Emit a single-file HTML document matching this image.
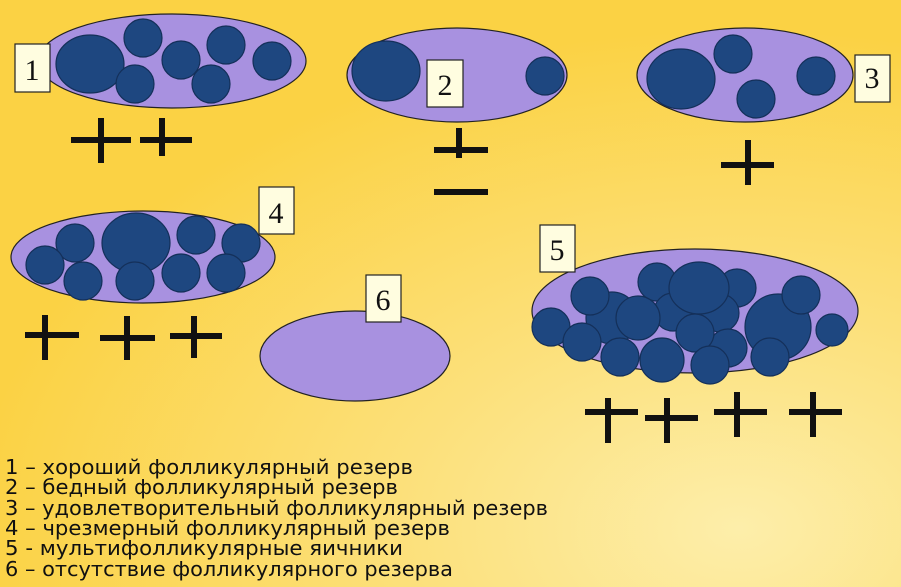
<!DOCTYPE html>
<html><head><meta charset="utf-8"><style>
html,body{margin:0;padding:0;width:901px;height:587px;overflow:hidden}
</style></head><body>
<svg width="901" height="587" viewBox="0 0 901 587" xmlns="http://www.w3.org/2000/svg">
<defs>
<radialGradient id="bg" cx="0.82" cy="0.9" r="0.85">
<stop offset="0" stop-color="#fdeeaa"/>
<stop offset="0.45" stop-color="#fce07a"/>
<stop offset="1" stop-color="#fbd244"/>
</radialGradient>
</defs>
<rect width="901" height="587" fill="url(#bg)"/>
<g stroke="#222" stroke-width="1.2">
<ellipse cx="172" cy="61" rx="134" ry="47" fill="#a891e0"/>
<ellipse cx="457" cy="75" rx="110" ry="47" fill="#a891e0"/>
<ellipse cx="745" cy="75" rx="108" ry="47" fill="#a891e0"/>
<ellipse cx="143" cy="257" rx="132" ry="46" fill="#a891e0"/>
<ellipse cx="355" cy="356" rx="95" ry="45" fill="#a891e0"/>
<ellipse cx="695" cy="311" rx="163" ry="62" fill="#a891e0"/>
</g>
<g fill="#1e4780" stroke="#14305a" stroke-width="1.2">
<ellipse cx="90" cy="64" rx="34" ry="29"/>
<circle cx="143" cy="38" r="19"/><circle cx="135" cy="84" r="19"/><circle cx="181" cy="60" r="19"/>
<circle cx="226" cy="45" r="19"/><circle cx="211" cy="84" r="19"/><circle cx="272" cy="61" r="19"/>
<ellipse cx="386" cy="71" rx="34" ry="30"/><circle cx="545" cy="76" r="19"/>
<ellipse cx="681" cy="79" rx="34" ry="30"/><circle cx="733" cy="54" r="19"/><circle cx="756" cy="99" r="19"/><circle cx="816" cy="76" r="19"/>
<circle cx="75" cy="243" r="19"/><circle cx="45" cy="265" r="19"/><circle cx="83" cy="281" r="19"/>
<ellipse cx="136" cy="243" rx="34" ry="30"/><circle cx="135" cy="281" r="19"/><circle cx="196" cy="235" r="19"/>
<circle cx="241" cy="243" r="19"/><circle cx="181" cy="273" r="19"/><circle cx="226" cy="273" r="19"/>
<circle cx="612" cy="318" r="26"/><circle cx="657" cy="282" r="19"/><circle cx="737" cy="288" r="19"/>
<circle cx="673" cy="312" r="19"/><circle cx="720" cy="313" r="19"/>
<circle cx="590" cy="296" r="19"/><circle cx="551" cy="327" r="19"/><circle cx="582" cy="342" r="19"/>
<circle cx="638" cy="318" r="22"/><ellipse cx="699" cy="288" rx="30" ry="26"/>
<circle cx="728" cy="348" r="19"/><circle cx="620" cy="357" r="19"/><circle cx="662" cy="360" r="22"/>
<circle cx="695" cy="333" r="19"/><circle cx="710" cy="365" r="19"/>
<circle cx="778" cy="327" r="33"/><circle cx="801" cy="295" r="19"/><circle cx="832" cy="330" r="16"/><circle cx="770" cy="357" r="19"/>
</g>
<g fill="#fffde0" stroke="#222" stroke-width="1.2">
<rect x="15" y="44" width="35" height="48"/>
<rect x="427" y="60" width="36" height="47"/>
<rect x="855" y="55" width="35" height="47"/>
<rect x="259" y="187" width="35" height="47"/>
<rect x="366" y="275" width="35" height="47"/>
<rect x="540" y="225" width="35" height="47"/>
</g>
<g font-family="Liberation Serif, serif" font-size="30" fill="#111" text-anchor="middle">
<text x="32" y="80">1</text><text x="445" y="95">2</text><text x="872" y="88">3</text>
<text x="276" y="223">4</text><text x="383" y="310">6</text><text x="557" y="260">5</text>
</g>
<g stroke="#111" stroke-width="6" fill="none">
<path d="M71 140h60M101 118v45M140 140h52M162 118v38"/>
<path d="M434 150h54M459 128v30M434 192h54"/>
<path d="M721 165h53M748 140v45"/>
<path d="M25 335h54M45 315v45M100 338h55M127 316v44M170 336h52M194 316v42"/>
<path d="M585 412h53M608 398v45M645 418h53M667 398v45M714 412h53M737 392v45M789 412h53M813 392v45"/>
</g>
<g font-family="DejaVu Sans, sans-serif" font-size="20" fill="#111">
<text x="5" y="474" textLength="408" lengthAdjust="spacingAndGlyphs">1 – хороший фолликулярный резерв</text>
<text x="5" y="494" textLength="393" lengthAdjust="spacingAndGlyphs">2 – бедный фолликулярный резерв</text>
<text x="5" y="515" textLength="543" lengthAdjust="spacingAndGlyphs">3 – удовлетворительный фолликулярный резерв</text>
<text x="5" y="535" textLength="445" lengthAdjust="spacingAndGlyphs">4 – чрезмерный фолликулярный резерв</text>
<text x="5" y="555" textLength="398" lengthAdjust="spacingAndGlyphs">5 -  мультифолликулярные яичники</text>
<text x="5" y="576" textLength="448" lengthAdjust="spacingAndGlyphs">6 – отсутствие фолликулярного резерва</text>
</g>
</svg>
</body></html>
